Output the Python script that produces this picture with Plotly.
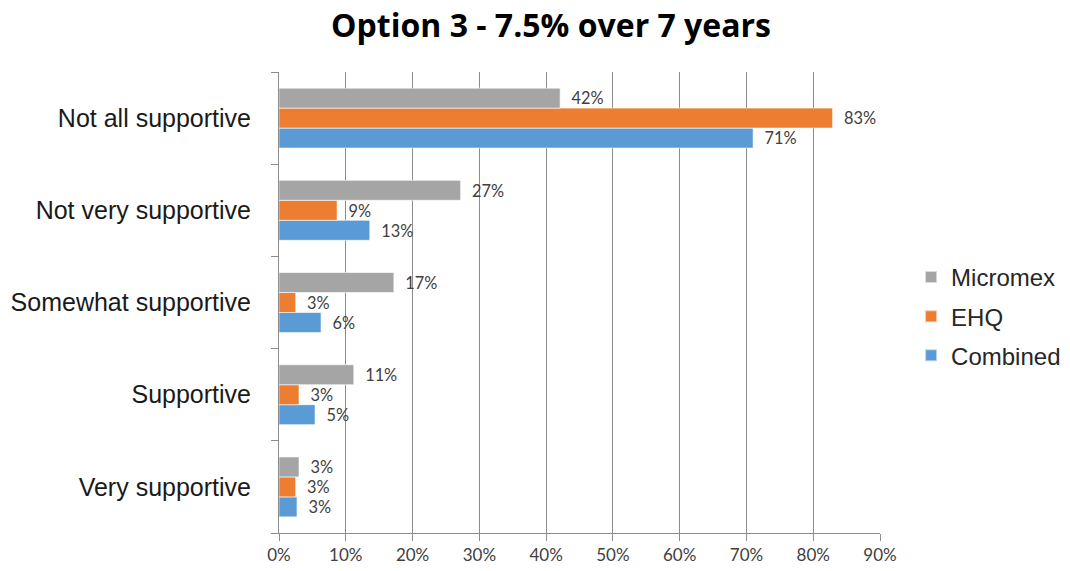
import plotly.graph_objects as go

# categories listed bottom to top
categories = ["Very supportive", "Supportive", "Somewhat supportive",
              "Not very supportive", "Not all supportive"]

micromex = [3.0, 11.2, 17.2, 27.2, 42.1]
ehq = [2.5, 3.0, 2.5, 8.7, 82.9]
combined = [2.7, 5.4, 6.3, 13.6, 71.0]

micromex_labels = ["3%", "11%", "17%", "27%", "42%"]
ehq_labels = ["3%", "3%", "3%", "9%", "83%"]
combined_labels = ["3%", "5%", "6%", "13%", "71%"]

x_ticks = [0, 10, 20, 30, 40, 50, 60, 70, 80, 90]
x_tick_labels = ["0%", "10%", "20%", "30%", "40%", "50%", "60%", "70%", "80%", "90%"]

colors = {
    "Micromex": "#A5A5A5",
    "EHQ": "#ED7D31",
    "Combined": "#5B9BD5",
    "grid": "#8C8C8C",
    "text": "#404040",
}

fig = go.Figure()

# first trace sits at the bottom of each group; legendrank puts Micromex on top of the legend
series = [
    ("Combined", combined, combined_labels, 3),
    ("EHQ", ehq, ehq_labels, 2),
    ("Micromex", micromex, micromex_labels, 1),
]
for name, values, labels, rank in series:
    fig.add_trace(
        go.Bar(
            y=categories,
            x=values,
            name=name,
            legendgroup=name,
            legendrank=rank,
            orientation="h",
            text=labels,
            texttemplate="\u00a0\u00a0%{text}",
            textposition="outside",
            cliponaxis=False,
            textfont=dict(family="Lato, Calibri, sans-serif", size=18, color=colors["text"]),
            marker=dict(color=colors[name], line=dict(color="rgba(255,255,255,0.6)", width=1)),
        )
    )

# legend is placed against the container so it does not push the plot margins
fig.update_layout(
    width=1070,
    height=571,
    paper_bgcolor="white",
    plot_bgcolor="white",
    barmode="group",
    bargap=0.35,
    bargroupgap=0,
    margin=dict(l=271, r=198, t=64, b=46),
    title=dict(
        text="<b>Option 3 - 7.5% over 7 years</b>",
        x=0.5075,
        xanchor="center",
        y=0.968,
        yanchor="middle",
        font=dict(family="Open Sans, Lato, sans-serif", size=32, color="#000000"),
    ),
    legend=dict(
        traceorder="grouped",
        xref="container",
        yref="container",
        x=0.844,
        xanchor="left",
        y=0.46,
        yanchor="middle",
        font=dict(family="Liberation Sans, Arial, sans-serif", size=24, color="#262626"),
        itemsizing="constant",
        tracegroupgap=5,
    ),
)

fig.update_xaxes(
    range=[0, 90],
    tickvals=x_ticks,
    ticktext=x_tick_labels,
    showgrid=True,
    gridcolor=colors["grid"],
    gridwidth=1,
    zeroline=False,
    showline=True,
    linecolor=colors["grid"],
    ticks="outside",
    ticklen=7,
    tickcolor=colors["grid"],
    tickfont=dict(family="Lato, Calibri, sans-serif", size=17, color=colors["text"]),
    automargin=False,
)

fig.update_yaxes(
    showline=True,
    linecolor=colors["grid"],
    ticks="outside",
    tickson="boundaries",
    ticklen=7,
    tickcolor=colors["grid"],
    showgrid=False,
    ticklabelstandoff=22,
    tickfont=dict(family="Liberation Sans, Arial, sans-serif", size=25, color="#1a1a1a"),
    automargin=False,
)

fig.write_html("out.html")
